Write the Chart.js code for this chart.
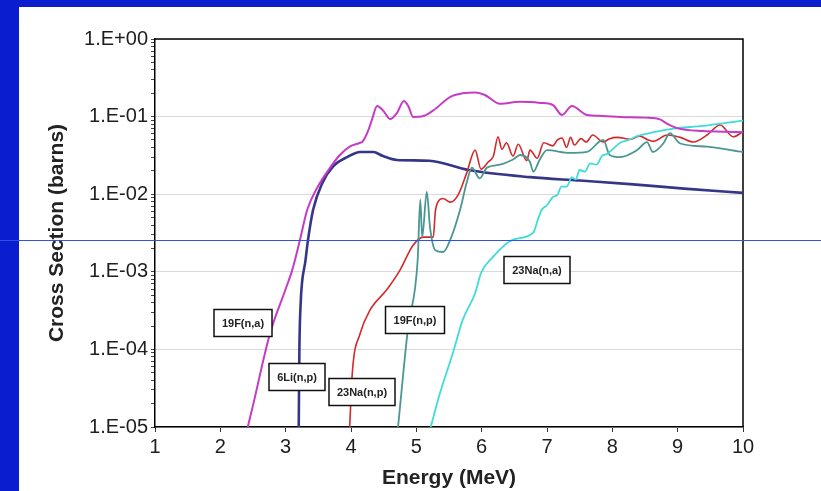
<!DOCTYPE html>
<html>
<head>
<meta charset="utf-8">
<script src="https://cdn.jsdelivr.net/npm/chart.js@4/dist/chart.umd.min.js"></script>
<style>
  html, body { margin: 0; padding: 0; background: #fff; }
  #wrap { width: 821px; height: 491px; }
</style>
</head>
<body>
<div id="wrap"><canvas id="xsChart" width="821" height="491"></canvas></div>
<script>
// neutron reaction cross sections: energy in MeV, sigma in barns

// 19F(n,a)
var f19naE = [2.42, 2.50, 2.76, 3.00, 3.10, 3.22, 3.33, 3.48, 3.68, 3.83, 3.98, 4.14, 4.18, 4.26, 4.32, 4.40, 4.49, 4.60, 4.70, 4.81, 4.88, 4.95, 5.08, 5.26, 5.52, 5.71, 5.90, 6.05, 6.28, 6.59, 6.90, 7.09, 7.23, 7.38, 7.61, 7.85, 8.12, 8.50, 8.73, 8.85, 8.99, 9.39, 9.70, 10.0];
var f19naS = [1.0e-5, 1.9e-5, 1.6e-4, 6.0e-4, 1.05e-3, 2.6e-3, 6.3e-3, 0.012, 0.022, 0.032, 0.041, 0.046, 0.048, 0.065, 0.091, 0.137, 0.12, 0.093, 0.11, 0.159, 0.135, 0.099, 0.1, 0.12, 0.18, 0.2, 0.205, 0.19, 0.146, 0.155, 0.15, 0.141, 0.105, 0.137, 0.105, 0.102, 0.099, 0.097, 0.092, 0.08, 0.071, 0.065, 0.064, 0.063];

// 6Li(n,p)
var li6npE = [3.20, 3.21, 3.23, 3.25, 3.30, 3.34, 3.42, 3.56, 3.73, 3.94, 4.14, 4.34, 4.49, 4.70, 5.20, 5.80, 6.74, 7.50, 8.27, 9.10, 10.0];
var li6npS = [1e-5, 1e-4, 4e-4, 7.2e-4, 1.34e-3, 2.5e-3, 6.3e-3, 0.0139, 0.023, 0.030, 0.035, 0.035, 0.031, 0.0276, 0.027, 0.0205, 0.0166, 0.015, 0.0135, 0.0118, 0.0104];

// 23Na(n,p)
var na23npE = [3.98, 4.02, 4.14, 4.29, 4.55, 4.75, 4.95, 5.11, 5.26, 5.29, 5.33, 5.41, 5.52, 5.64, 5.77, 5.90, 5.99, 6.10, 6.18, 6.25, 6.31, 6.38, 6.48, 6.56, 6.69, 6.74, 6.85, 6.95, 7.09, 7.16, 7.23, 7.30, 7.36, 7.42, 7.52, 7.60, 7.70, 7.86, 7.96, 8.08, 8.27, 8.42, 8.55, 8.63, 8.84, 9.04, 9.24, 9.45, 9.65, 9.85, 10.0];
var na23npS = [1e-5, 5e-5, 1.6e-4, 3.2e-4, 5.9e-4, 1.05e-3, 2.2e-3, 2.8e-3, 2.8e-3, 5.9e-3, 7.9e-3, 8.8e-3, 7.9e-3, 9.8e-3, 0.0187, 0.037, 0.021, 0.026, 0.031, 0.055, 0.038, 0.046, 0.031, 0.044, 0.027, 0.037, 0.029, 0.046, 0.042, 0.05, 0.053, 0.04, 0.054, 0.043, 0.052, 0.047, 0.058, 0.047, 0.052, 0.054, 0.051, 0.056, 0.05, 0.048, 0.058, 0.054, 0.047, 0.058, 0.078, 0.055, 0.064];

// 19F(n,p)
var f19npE = [4.72, 4.87, 5.02, 5.06, 5.09, 5.16, 5.21, 5.29, 5.41, 5.52, 5.67, 5.77, 5.85, 5.97, 6.08, 6.28, 6.48, 6.59, 6.74, 6.79, 6.89, 7.00, 7.35, 7.61, 7.86, 7.96, 8.12, 8.38, 8.53, 8.62, 8.78, 8.88, 9.04, 9.45, 10.0];
var f19npS = [1e-5, 1.8e-4, 1.4e-3, 8.5e-3, 2.8e-3, 0.0107, 3.7e-3, 1.9e-3, 1.8e-3, 2.6e-3, 6.3e-3, 0.014, 0.022, 0.016, 0.022, 0.024, 0.028, 0.032, 0.026, 0.0195, 0.028, 0.037, 0.034, 0.035, 0.05, 0.032, 0.030, 0.037, 0.047, 0.035, 0.045, 0.061, 0.045, 0.041, 0.035];

// 23Na(n,a)
var na23naE = [5.22, 5.36, 5.56, 5.71, 5.90, 5.99, 6.17, 6.48, 6.79, 6.86, 6.92, 7.00, 7.09, 7.16, 7.22, 7.30, 7.38, 7.44, 7.50, 7.58, 7.66, 7.76, 7.84, 7.92, 8.02, 8.12, 8.25, 8.38, 8.63, 8.93, 9.39, 10.0];
var na23naS = [1e-5, 2.7e-5, 9e-5, 2.4e-4, 5.3e-4, 9.6e-4, 1.55e-3, 2.6e-3, 3.2e-3, 4.7e-3, 6.3e-3, 7.2e-3, 9.2e-3, 9.8e-3, 0.0125, 0.0125, 0.0165, 0.0155, 0.0205, 0.0195, 0.025, 0.024, 0.031, 0.033, 0.039, 0.046, 0.05, 0.056, 0.063, 0.07, 0.076, 0.089];

var energyTicks = [1, 2, 3, 4, 5, 6, 7, 8, 9, 10];
var sigmaDecades = [-5, -4, -3, -2, -1, 0];

var FONT = '"Liberation Sans", Arial, Helvetica, sans-serif';

function pairs(xs, ys) {
    return xs.map(function (x, i) { return { x: x, y: ys[i] }; });
}

function isDecade(v) {
    var l = Math.log10(v);
    return Math.abs(l - Math.round(l)) < 1e-9;
}

function sciLabel(v) {
    var e = Math.round(Math.log10(v));
    var a = Math.abs(e);
    return '1.E' + (e < 0 ? '-' : '+') + (a < 10 ? '0' : '') + a;
}

// slide backdrop, plot frame and the thin rule across the page
var slideDecor = {
    id: 'slideDecor',
    beforeDraw: function (chart) {
        var c = chart.ctx;
        c.save();
        c.fillStyle = '#ffffff';
        c.fillRect(0, 0, chart.width, chart.height);
        c.fillStyle = '#0a1ecf';
        c.fillRect(0, 0, 19, chart.height);
        c.fillRect(0, 0, chart.width, 7);
        c.restore();
    },
    beforeDatasetsDraw: function (chart) {
        var a = chart.chartArea, c = chart.ctx;
        c.save();
        c.strokeStyle = '#000';
        c.lineWidth = 1.5;
        c.beginPath();
        c.moveTo(a.left, a.top);
        c.lineTo(a.right, a.top);
        c.lineTo(a.right, a.bottom);
        c.stroke();
        c.restore();
    },
    afterDraw: function (chart) {
        var c = chart.ctx;
        c.save();
        c.strokeStyle = '#3050ea';
        c.lineWidth = 1;
        c.beginPath();
        c.moveTo(0, 240.5);
        c.lineTo(chart.width, 240.5);
        c.stroke();
        c.restore();
    }
};

// boxed reaction names placed in data units
var reactionTags = {
    id: 'reactionTags',
    afterDatasetsDraw: function (chart, args, opts) {
        var c = chart.ctx, xs = chart.scales.x, ys = chart.scales.y;
        c.save();
        c.font = 'bold 11px ' + FONT;
        c.textAlign = 'center';
        c.textBaseline = 'middle';
        opts.tags.forEach(function (t) {
            var px = Math.round(xs.getPixelForValue(t.e));
            var py = Math.round(ys.getPixelForValue(t.s));
            var w = Math.round(c.measureText(t.text).width + 16);
            var h = 27;
            c.fillStyle = '#fff';
            c.fillRect(px - w / 2, py - h / 2, w, h);
            c.strokeStyle = '#111';
            c.lineWidth = 1.5;
            c.strokeRect(px - w / 2, py - h / 2, w, h);
            c.fillStyle = '#222';
            c.fillText(t.text, px, py + 1);
        });
        c.restore();
    }
};

function line(label, xs, ys, color, width) {
    return {
        label: label,
        data: pairs(xs, ys),
        borderColor: color,
        backgroundColor: color,
        borderWidth: width,
        pointRadius: 0,
        fill: false,
        cubicInterpolationMode: 'monotone'
    };
}

const ctx = document.getElementById('xsChart').getContext('2d');
new Chart(ctx, {
    type: 'line',
    data: {
        datasets: [
            line('19F(n,a)', f19naE, f19naS, '#c63ac6', 2),
            line('23Na(n,a)', na23naE, na23naS, '#3fdcd8', 1.8),
            line('19F(n,p)', f19npE, f19npS, '#4a9692', 1.8),
            line('23Na(n,p)', na23npE, na23npS, '#d22a2a', 1.6),
            line('6Li(n,p)', li6npE, li6npS, '#363688', 2.6)
        ]
    },
    options: {
        responsive: false,
        animation: false,
        layout: { padding: { left: 0, top: 39, right: 78, bottom: 0 } },
        plugins: {
            legend: { display: false },
            tooltip: { enabled: false },
            reactionTags: {
                tags: [
                    { text: '19F(n,a)', e: 2.35, s: 2.2e-4 },
                    { text: '6Li(n,p)', e: 3.17, s: 4.4e-5 },
                    { text: '23Na(n,p)', e: 4.17, s: 2.8e-5 },
                    { text: '19F(n,p)', e: 4.98, s: 2.4e-4 },
                    { text: '23Na(n,a)', e: 6.85, s: 1.07e-3 }
                ]
            }
        },
        scales: {
            x: {
                type: 'linear',
                min: energyTicks[0],
                max: energyTicks[energyTicks.length - 1],
                afterFit: function (scale) { scale.height = 64; },
                afterBuildTicks: function (scale) {
                    scale.ticks = energyTicks.map(function (v) { return { value: v }; });
                },
                border: { color: '#000', width: 1.5 },
                grid: { drawOnChartArea: false, tickLength: 5, tickColor: '#333' },
                ticks: { color: '#1e1e1e', padding: 3, font: { family: FONT, size: 20 } },
                title: {
                    display: true,
                    text: 'Energy (MeV)',
                    color: '#222',
                    padding: { top: 0, bottom: 0 },
                    font: { family: FONT, size: 21, weight: 'bold' }
                }
            },
            y: {
                type: 'logarithmic',
                min: Math.pow(10, sigmaDecades[0]),
                max: Math.pow(10, sigmaDecades[sigmaDecades.length - 1]),
                afterFit: function (scale) { scale.width = 155; },
                afterBuildTicks: function (scale) {
                    var t = [];
                    for (var i = 0; i < sigmaDecades.length - 1; i++) {
                        for (var k = 1; k < 10; k++) {
                            t.push({ value: k * Math.pow(10, sigmaDecades[i]) });
                        }
                    }
                    t.push({ value: Math.pow(10, sigmaDecades[sigmaDecades.length - 1]) });
                    scale.ticks = t;
                },
                border: { color: '#000', width: 1.5 },
                grid: {
                    color: function (c) {
                        return c.tick && isDecade(c.tick.value) ? '#d9d9d9' : 'rgba(0,0,0,0)';
                    },
                    lineWidth: 1,
                    tickLength: 4,
                    tickColor: '#444'
                },
                ticks: {
                    autoSkip: false,
                    color: '#1e1e1e',
                    padding: 3,
                    font: { family: FONT, size: 20 },
                    callback: function (v) { return isDecade(v) ? sciLabel(v) : ''; }
                },
                title: {
                    display: true,
                    text: 'Cross Section (barns)',
                    color: '#222',
                    padding: { top: 45, bottom: 0 },
                    font: { family: FONT, size: 21, weight: 'bold' }
                }
            }
        }
    },
    plugins: [slideDecor, reactionTags]
});
</script>
</body>
</html>
